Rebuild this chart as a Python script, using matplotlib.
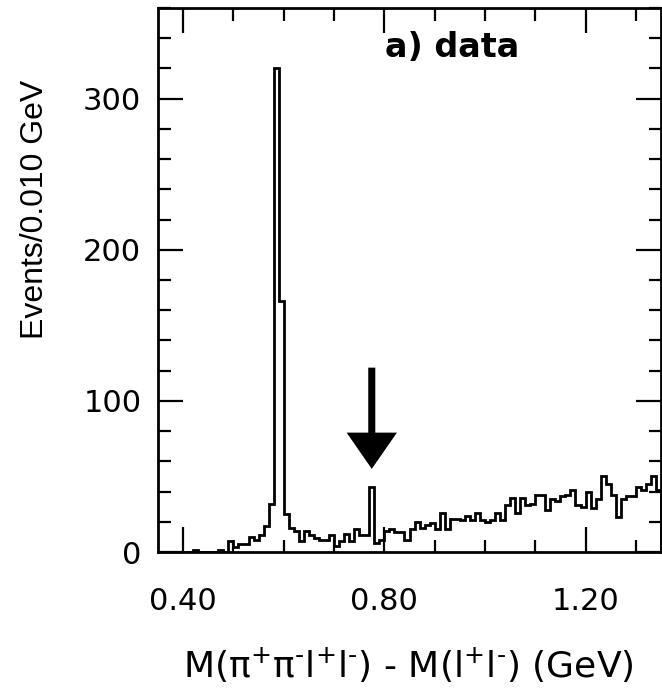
import numpy as np
import matplotlib
matplotlib.use("Agg")
import matplotlib.pyplot as plt
from matplotlib.ticker import MultipleLocator, FixedLocator

plt.rcParams['font.family'] = ['DejaVu Sans']
plt.rcParams['mathtext.fontset'] = 'dejavusans'
plt.rcParams['mathtext.default'] = 'regular'

# Histogram: bin edges 0.35 .. 1.35 GeV, width 0.010 GeV
bin_lo = 0.35
bin_width = 0.01
counts = [
    0, 0, 0, 0, 0, 0, 0, 1, 0, 0,
    0, 0, 1, 0, 7, 3, 5, 5, 10, 8,
    11, 17, 32, 320, 166, 25, 16, 14, 7, 14,
    11, 9, 8, 8, 11, 4, 7, 12, 7, 15,
    11, 11, 43, 6, 8, 14, 15, 13, 13, 8,
    15, 20, 16, 18, 19, 15, 26, 15, 22, 22,
    21, 24, 21, 26, 21, 20, 21, 26, 21, 31,
    36, 26, 36, 31, 32, 38, 38, 28, 35, 34,
    37, 38, 41, 31, 30, 40, 29, 35, 50, 45,
    38, 23, 35, 37, 37, 43, 41, 45, 50, 41,
]
edges = bin_lo + bin_width * np.arange(len(counts) + 1)

x_ticks = [0.40, 0.80, 1.20]
x_tick_labels = ["0.40", "0.80", "1.20"]
y_ticks = [0, 100, 200, 300]
y_tick_labels = ["0", "100", "200", "300"]

arrow_x = 0.775
arrow_top = 122
arrow_tip = 55

fig = plt.figure(figsize=(6.62, 6.95), dpi=100)
ax = fig.add_axes([158/662, 1 - 552/695, (661-158)/662, (552-8)/695])

ax.stairs(counts, edges, color='black', lw=2.0, baseline=0)

ax.set_xlim(0.35, 1.35)
ax.set_ylim(0, 360)

ax.xaxis.set_major_locator(FixedLocator(x_ticks))
ax.set_xticklabels(x_tick_labels)
ax.xaxis.set_minor_locator(MultipleLocator(0.1))
ax.yaxis.set_major_locator(FixedLocator(y_ticks))
ax.set_yticklabels(y_tick_labels)
ax.yaxis.set_minor_locator(MultipleLocator(20))

ax.tick_params(which='both', direction='in', top=True, right=True, width=1.6, labelsize=22)
ax.tick_params(which='major', length=18)
ax.tick_params(which='minor', length=9)
ax.tick_params(axis='x', which='major', pad=25)
ax.tick_params(axis='y', which='major', pad=12)
for s in ax.spines.values():
    s.set_linewidth(2.0)

# Arrow
ax.arrow(arrow_x, arrow_top, 0, arrow_tip - arrow_top, width=0.014,
         head_width=0.1, head_length=24, length_includes_head=True,
         color='black', lw=0)

ax.text(0.585, 0.928, "a) data", transform=ax.transAxes, fontsize=24,
        fontweight='bold', family='DejaVu Sans', ha='center', va='center')

fig.text(35/662, 1 - 209/695, "Events/0.010 GeV", rotation=90,
         ha='center', va='center', fontsize=23, family=['Liberation Sans', 'DejaVu Sans'])
fig.text(408/662, 1 - 665/695,
         "M($\\pi^{+}\\pi^{\u2010}$l$^{+}$l$^{\u2010}$) - M(l$^{+}$l$^{\u2010}$) (GeV)",
         ha='center', va='center', fontsize=26)

fig.savefig("out.png", dpi=100)
